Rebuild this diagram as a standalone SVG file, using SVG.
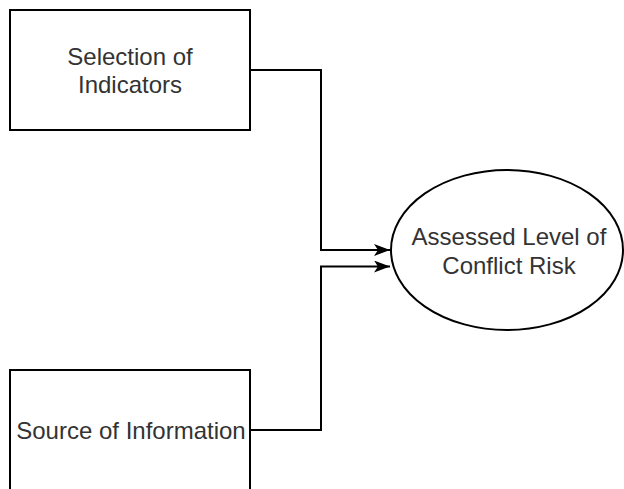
<svg xmlns="http://www.w3.org/2000/svg" width="624" height="489" viewBox="0 0 624 489">
  <style>
    .box { fill: #ffffff; stroke: #000000; stroke-width: 2; }
    .lbl { font-family: "Liberation Sans", Arial, sans-serif; font-size: 24px; fill: #333333; text-anchor: middle; }
    .edge { fill: none; stroke: #000000; stroke-width: 2; }
  </style>
  <defs>
    <marker id="arrow" viewBox="0 0 16 12" refX="16" refY="6" markerWidth="16" markerHeight="12" markerUnits="userSpaceOnUse" orient="auto">
      <path d="M0,0 L16,6 L0,12 L4,6 Z" fill="#000000"/>
    </marker>
  </defs>
  <rect width="624" height="489" fill="#ffffff"/>
  <g id="connectors">
    <path class="edge" d="M250,70 H321 V250 H390" marker-end="url(#arrow)"/>
    <path class="edge" d="M250,430 H321 V266.5 H390" marker-end="url(#arrow)"/>
  </g>
  <g id="selection-of-indicators">
    <rect class="box" x="10" y="10" width="240" height="120"/>
    <text class="lbl" x="130" y="64.5">Selection of</text>
    <text class="lbl" x="130" y="93">Indicators</text>
  </g>
  <g id="source-of-information">
    <rect class="box" x="10" y="370" width="240" height="120"/>
    <text class="lbl" x="131" y="438.5">Source of Information</text>
  </g>
  <g id="assessed-level">
    <ellipse class="box" cx="507" cy="250" rx="116" ry="80"/>
    <text class="lbl" x="509" y="245">Assessed Level of</text>
    <text class="lbl" x="509" y="273.5">Conflict Risk</text>
  </g>
</svg>
